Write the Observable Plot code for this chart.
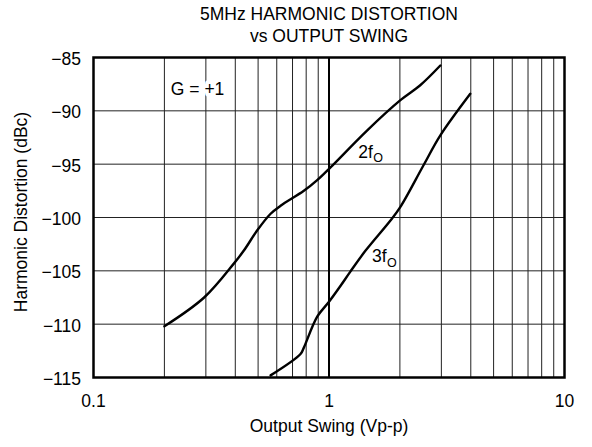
<!DOCTYPE html>
<html>
<head>
<meta charset="utf-8">
<script src="https://cdn.jsdelivr.net/npm/d3@7"></script>
<script src="https://cdn.jsdelivr.net/npm/@observablehq/plot@0.6"></script>
<style>
  body { margin: 0; background: white; font-family: "Liberation Sans", Arial, sans-serif; }
  #title { width: 592px; height: 46px; box-sizing: border-box; padding: 3px 0 0 66px; text-align: center; font-size: 17.5px; line-height: 22px; color: #000; overflow: hidden; }
</style>
</head>
<body>
<div id="title">5MHz HARMONIC DISTORTION<br>vs OUTPUT SWING</div>
<div id="chart"></div>
<script>
// 2nd harmonic (2fO)
const h2Swing = [0.2, 0.295, 0.395, 0.435, 0.496, 0.565, 0.623, 0.782, 0.891, 1.015, 1.45, 2.01, 2.44, 2.97];
const h2Dist  = [-110.2, -107.5, -104.3, -103.1, -101.2, -99.65, -98.9, -97.5, -96.5, -95.3, -91.85, -89.0, -87.6, -85.75];
// 3rd harmonic (3fO)
const h3Swing = [0.565, 0.757, 0.782, 0.891, 1.0, 1.12, 1.23, 1.43, 1.82, 2.01, 2.52, 2.97, 3.98];
const h3Dist  = [-114.8, -112.8, -112.2, -109.3, -107.9, -106.4, -105.1, -103.1, -100.3, -99.0, -95.1, -92.3, -88.4];

const xTicks = [0.1, 1, 10];
const xTickLabels = ["0.1", "1", "10"];
const xGrid = [0.2, 0.3, 0.4, 0.5, 0.6, 0.7, 0.8, 0.9, 2, 3, 4, 5, 6, 7, 8, 9];
const yTicks = [-115, -110, -105, -100, -95, -90, -85];

const titleX = "Output Swing (Vp-p)";
const titleY = "Harmonic Distortion (dBc)";
const gainLabel = ["G = +1"];
const labels = [
  {x: 1.33, y: -93.86, main: "2f", sub: "O"},
  {x: 1.524, y: -103.66, main: "3f", sub: "O"}
];
const gainPos = {x: 0.213, y: -88.0};

const h2 = h2Swing.map((x, i) => ({x, y: h2Dist[i]}));
const h3 = h3Swing.map((x, i) => ({x, y: h3Dist[i]}));

const FS = 17.5;

const chart = Plot.plot({
  width: 592,
  height: 401,
  marginLeft: 93,
  marginRight: 28,
  marginTop: 11,
  marginBottom: 70,
  style: {fontFamily: "'Liberation Sans', Arial, sans-serif", fontSize: FS + "px", background: "white", color: "black", overflow: "visible"},
  x: {type: "log", domain: [0.1, 10]},
  y: {domain: [-115, -85]},
  marks: [
    Plot.ruleX(xGrid, {stroke: "#222", strokeWidth: 1}),
    Plot.ruleY(yTicks, {stroke: "#222", strokeWidth: 1}),
    Plot.ruleX([1], {stroke: "#000", strokeWidth: 2}),
    Plot.frame({stroke: "#000", strokeWidth: 2.5}),
    Plot.axisX({ticks: xTicks, tickSize: 0, tickPadding: 17, tickFormat: (d) => xTickLabels[xTicks.indexOf(d)], label: null, fontSize: FS}),
    Plot.axisY({ticks: yTicks, tickSize: 0, tickPadding: 12.5, dy: 2, label: null, fontSize: FS}),
    Plot.line(h2, {x: "x", y: "y", stroke: "#000", strokeWidth: 2.4, curve: "catmull-rom"}),
    Plot.line(h3, {x: "x", y: "y", stroke: "#000", strokeWidth: 2.4, curve: "catmull-rom"}),
    Plot.text(gainLabel, {x: gainPos.x, y: gainPos.y, text: (d) => d, textAnchor: "start", fill: "#000", stroke: "white", strokeWidth: 8, fontSize: FS}),
    Plot.text(labels, {x: "x", y: "y", text: "main", textAnchor: "start", fill: "#000", fontSize: FS}),
    Plot.text(labels, {x: "x", y: "y", text: "sub", textAnchor: "start", dx: 15, dy: 6, fill: "#000", fontSize: 12.5}),
    Plot.text([titleX], {text: (d) => d, frameAnchor: "bottom", textAnchor: "middle", dy: 54.5, fill: "#000", fontSize: FS}),
    Plot.text([titleY], {text: (d) => d, frameAnchor: "left", textAnchor: "middle", dx: -72, dy: -5.5, rotate: -90, fill: "#000", fontSize: FS})
  ]
});
document.getElementById("chart").appendChild(chart);
</script>
</body>
</html>
